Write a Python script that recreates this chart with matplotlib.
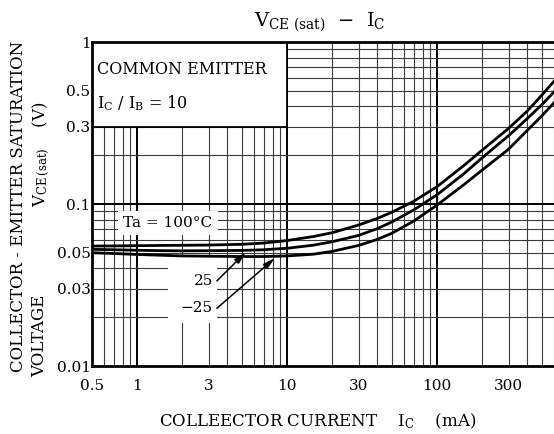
import numpy as np
import matplotlib.pyplot as plt
from matplotlib.patches import Rectangle
from matplotlib.ticker import NullLocator

plt.rcParams['font.family'] = 'DejaVu Serif'
plt.rcParams['mathtext.fontset'] = 'dejavuserif'

# collector current (mA) and saturation voltage (V)
ic = [0.5, 0.7, 1, 1.5, 2, 3, 5, 7, 10, 15, 20, 30, 40, 50, 70,
      100, 150, 200, 300, 400, 500, 600, 700]
vce_100 = [0.0550, 0.0551, 0.0553, 0.0555, 0.0556, 0.0558, 0.0564, 0.0574,
           0.0595, 0.0630, 0.0665, 0.0742, 0.0815, 0.0890, 0.104,
           0.128, 0.172, 0.215, 0.293, 0.375, 0.47, 0.57, 0.665]
vce_25 = [0.0525, 0.0522, 0.0518, 0.0515, 0.0514, 0.0515, 0.0517, 0.0522,
          0.0533, 0.0557, 0.0585, 0.0640, 0.0705, 0.0775, 0.092,
          0.114, 0.153, 0.193, 0.264, 0.337, 0.41, 0.49, 0.57]
vce_m25 = [0.0500, 0.0495, 0.0488, 0.0482, 0.0478, 0.0476, 0.0474, 0.0474,
           0.0478, 0.0490, 0.0510, 0.0555, 0.0605, 0.0660, 0.0785,
           0.0985, 0.131, 0.162, 0.218, 0.285, 0.35, 0.42, 0.49]

xticks = [0.5, 1, 3, 10, 30, 100, 300]
xticklabels = ['0.5', '1', '3', '10', '30', '100', '300']
yticks = [0.01, 0.03, 0.05, 0.1, 0.3, 0.5, 1]
yticklabels = ['0.01', '0.03', '0.05', '0.1', '0.3', '0.5', '1']

fig = plt.figure(figsize=(5.54, 4.34), dpi=100)
# right end (1000 mA) lies outside the picture, like the cropped original
ax = fig.add_axes([92 / 554, 68 / 434, 495 / 554, 324 / 434])
ax.set_xscale('log')
ax.set_yscale('log')
ax.set_xlim(0.5, 1000)
ax.set_ylim(0.01, 1)

# log paper grid
grid_x = [m * 10.0 ** e for e in range(-1, 3) for m in range(1, 10)]
grid_y = [m * 10.0 ** e for e in (-2, -1) for m in range(1, 10)]
for g in grid_x:
    if 0.5 < g < 1000:
        major = abs(np.log10(g) - round(np.log10(g))) < 1e-9
        ax.axvline(g, color='k' if major else '#3a3a3a',
                   lw=1.4 if major else 0.8, zorder=1)
for g in grid_y:
    if 0.01 < g < 1:
        major = abs(np.log10(g) - round(np.log10(g))) < 1e-9
        ax.axhline(g, color='k' if major else '#3a3a3a',
                   lw=1.4 if major else 0.8, zorder=1)

# white boxes that hide the grid behind the notes
ax.add_patch(Rectangle((0.5, 0.3), 9.5, 0.7, facecolor='white',
                       edgecolor='k', lw=1.3, zorder=2))
ax.add_patch(Rectangle((1.6, 0.0185), 1.8, 0.0285, facecolor='white',
                       edgecolor='none', zorder=2))

for v in (vce_100, vce_25, vce_m25):
    ax.plot(ic, v, color='k', lw=2.0, zorder=3, solid_capstyle='round')

ax.text(0.54, 0.68, 'COMMON EMITTER', fontsize=11.5, ha='left', va='center', zorder=4)
ax.text(0.54, 0.42, r'I$_{\rm C}$ / I$_{\rm B}$ = 10', fontsize=11.5,
        ha='left', va='center', zorder=4)
ax.text(1.6, 0.0763, 'Ta = 100°C', fontsize=11, ha='center', va='center', zorder=4,
        bbox=dict(boxstyle='square,pad=0.35', fc='white', ec='none'))
ax.text(3.2, 0.0335, '25', fontsize=11, ha='right', va='center', zorder=4)
ax.text(3.2, 0.0227, '\u221225', fontsize=11, ha='right', va='center', zorder=4)
arrow = dict(arrowstyle='-|>,head_length=0.7,head_width=0.18', color='k',
             lw=1.1, shrinkA=0, shrinkB=0)
ax.annotate('', xy=(5.3, 0.0503), xytext=(3.4, 0.0335), arrowprops=arrow, zorder=4)
ax.annotate('', xy=(8.3, 0.0464), xytext=(3.4, 0.0227), arrowprops=arrow, zorder=4)

ax.set_xticks(xticks, xticklabels)
ax.set_yticks(yticks, yticklabels)
ax.xaxis.set_minor_locator(NullLocator())
ax.yaxis.set_minor_locator(NullLocator())
ax.tick_params(axis='x', length=0, pad=9, labelsize=11)
ax.tick_params(axis='y', length=0, pad=1, labelsize=11)

for s in ('left', 'bottom', 'top'):
    ax.spines[s].set_linewidth(2.0)
    ax.spines[s].set_zorder(5)
ax.spines['right'].set_visible(False)

fig.text(320 / 554, 1 - 22 / 434, r'V$_{\rm CE\ (sat)}$  $-$  I$_{\rm C}$',
         fontsize=14, ha='center', va='center')
fig.text(318 / 554, 1 - 421 / 434,
         r'COLLEECTOR CURRENT    I$_{\rm C}$    (mA)',
         fontsize=12, ha='center', va='center')
fig.text(19 / 554, 1 - 206 / 434, 'COLLECTOR - EMITTER SATURATION',
         fontsize=12, rotation=90, ha='center', va='center')
fig.text(40 / 554, 1 - 377 / 434, 'VOLTAGE',
         fontsize=12, rotation=90, ha='center', va='bottom')
fig.text(41 / 554, 1 - 207 / 434, r'V$_{\rm CE\,(sat)}$    (V)',
         fontsize=12, rotation=90, ha='center', va='bottom')

fig.savefig('out.png', dpi=100)
